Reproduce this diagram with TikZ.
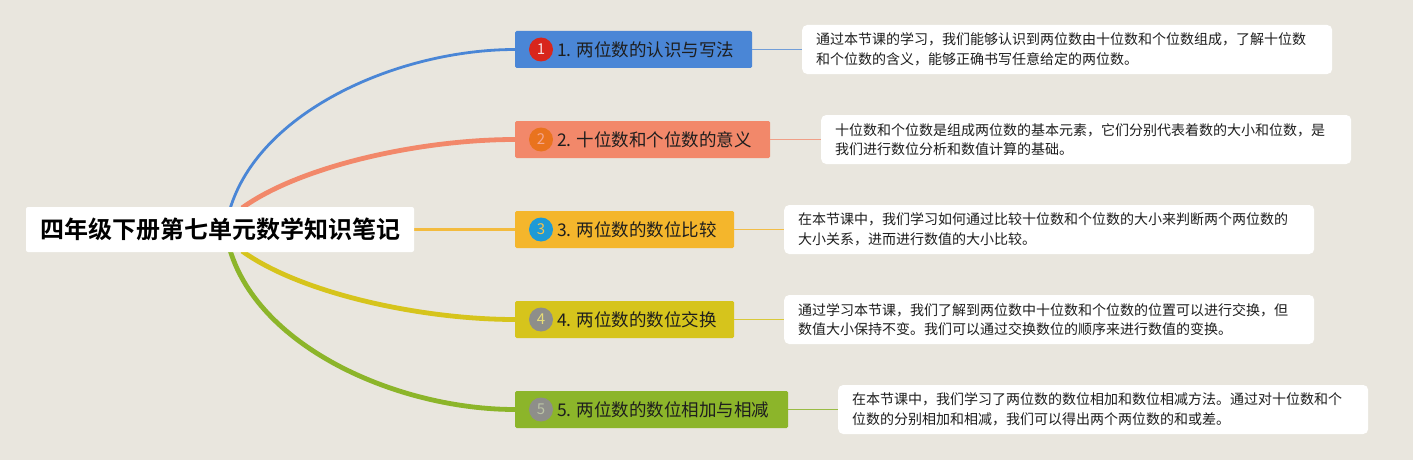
\documentclass[tikz,border=0pt]{standalone}
\usepackage{fontspec}
\setmainfont{Noto Sans CJK SC}[BoldFont={Noto Sans CJK SC Bold}]
\definecolor{bg}{HTML}{E9E6DE}
\definecolor{cA}{HTML}{4A86D6}
\definecolor{cB}{HTML}{F2886A}
\definecolor{cC}{HTML}{F4B62C}
\definecolor{cD}{HTML}{D6C41C}
\definecolor{cE}{HTML}{8CB52A}
\definecolor{kA}{HTML}{D8261C}
\definecolor{kB}{HTML}{E9731E}
\definecolor{kC}{HTML}{1E9AD6}
\definecolor{kD}{HTML}{8E8E8A}
\definecolor{kE}{HTML}{8E8E8A}
\definecolor{txt}{HTML}{1E1E1E}
\begin{document}
\begin{tikzpicture}[x=1pt,y=-1pt,
  rootbox/.style={fill=white,rounded corners=2pt,minimum width=388pt,minimum height=45pt,inner sep=0pt,font=\fontsize{24}{28}\selectfont\bfseries,text=black},
  branchbox/.style={rounded corners=1.5pt,minimum height=37pt,inner sep=0pt,anchor=west},
  numdot/.style={circle,minimum size=24pt,inner sep=0pt,font=\fontsize{15}{16}\selectfont},
  btext/.style={anchor=west,inner sep=0pt,font=\fontsize{17.5}{20}\selectfont,text=txt},
  descbox/.style={fill=white,rounded corners=5pt,minimum width=530pt,minimum height=49pt,text width=502pt,align=left,inner xsep=14pt,inner ysep=0pt,anchor=west,font=\fontsize{14}{19.5}\selectfont,text=txt},
  link/.style={line width=1.8pt}
]
\useasboundingbox[fill=bg] (0,0) rectangle (1413,460);

% branch boxes
\node[branchbox,fill=cA,minimum width=237pt] (b1) at (515,49.5) {};
\node[branchbox,fill=cB,minimum width=255pt] (b2) at (515,139.5) {};
\node[branchbox,fill=cC,minimum width=219pt] (b3) at (515,229.5) {};
\node[branchbox,fill=cD,minimum width=219pt] (b4) at (515,319.5) {};
\node[branchbox,fill=cE,minimum width=273pt] (b5) at (515,409.5) {};

% curves from root
\coordinate (s1) at (230,209);
\coordinate (s2) at (242,208);
\coordinate (s3) at (410,229.5);
\coordinate (s4) at (242,251);
\coordinate (s5) at (230,250);
\draw[cA,line width=2.8pt] (s1) .. controls (260,110) and (400,49.5) .. (b1.west);
\draw[cB,line width=4.8pt] (s2) .. controls (300,166) and (420,139.5) .. (b2.west);
\draw[cC!90!bg,line width=2.2pt] (s3) -- (b3.west);
\draw[cD,line width=4.8pt] (s4) .. controls (300,293) and (420,319.5) .. (b4.west);
\draw[cE,line width=4.8pt] (s5) .. controls (260,349) and (400,409.5) .. (b5.west);

% root
\node[rootbox] (root) at (220,229.5) {四年级下册第七单元数学知识笔记};

% numbers and titles
\node[numdot,fill=kA,text=white!85!kA] (n1) at ([xshift=26pt]b1.west) {1};
\node[numdot,fill=kB,text=cB!75!white] (n2) at ([xshift=26pt]b2.west) {2};
\node[numdot,fill=kC,text=cC!85!white] (n3) at ([xshift=26pt]b3.west) {3};
\node[numdot,fill=kD,text=cD!60!white] (n4) at ([xshift=26pt]b4.west) {4};
\node[numdot,fill=kE,text=kE!65!cE!60!white] (n5) at ([xshift=26pt]b5.west) {5};
\node[btext] (t1) at ([xshift=42pt]b1.west) {1. 两位数的认识与写法};
\node[btext] (t2) at ([xshift=42pt]b2.west) {2. 十位数和个位数的意义};
\node[btext] (t3) at ([xshift=42pt]b3.west) {3. 两位数的数位比较};
\node[btext] (t4) at ([xshift=42pt]b4.west) {4. 两位数的数位交换};
\node[btext] (t5) at ([xshift=42pt]b5.west) {5. 两位数的数位相加与相减};

% descriptions
\node[descbox] (d1) at (802,49.5) {通过本节课的学习，我们能够认识到两位数由十位数和个位数组成，了解十位数\\和个位数的含义，能够正确书写任意给定的两位数。};
\node[descbox] (d2) at (821,139.5) {十位数和个位数是组成两位数的基本元素，它们分别代表着数的大小和位数，是\\我们进行数位分析和数值计算的基础。};
\node[descbox] (d3) at (784,229.5) {在本节课中，我们学习如何通过比较十位数和个位数的大小来判断两个两位数的\\大小关系，进而进行数值的大小比较。};
\node[descbox] (d4) at (784,319.5) {通过学习本节课，我们了解到两位数中十位数和个位数的位置可以进行交换，但\\数值大小保持不变。我们可以通过交换数位的顺序来进行数值的变换。};
\node[descbox] (d5) at (838,409.5) {在本节课中，我们学习了两位数的数位相加和数位相减方法。通过对十位数和个\\位数的分别相加和相减，我们可以得出两个两位数的和或差。};

% links
\draw[link,cA!75!bg] (b1.east) -- (d1.west);
\draw[link,cB!75!bg] (b2.east) -- (d2.west);
\draw[link,cC!85!bg] (b3.east) -- (d3.west);
\draw[link,cD!85!bg] (b4.east) -- (d4.west);
\draw[link,cE!85!bg] (b5.east) -- (d5.west);
\end{tikzpicture}
\end{document}
